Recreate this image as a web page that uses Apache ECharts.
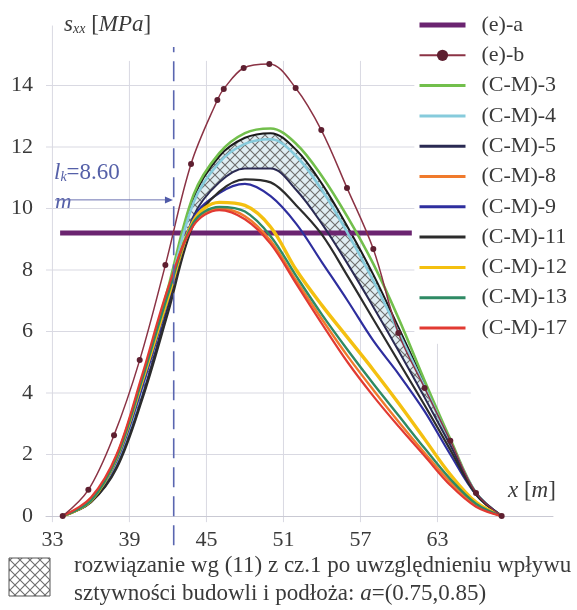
<!DOCTYPE html>
<html>
<head>
<meta charset="utf-8">
<script src="https://cdn.jsdelivr.net/npm/echarts@6/dist/echarts.min.js"></script>
<style>
html, body { margin: 0; padding: 0; background: #fff; }
#chart { width: 577px; height: 610px; }
</style>
</head>
<body>
<div id="chart"></div>
<script>
// Stress s_xx [MPa] along the section x [m]
const xs = [33.8, 36, 38, 40, 42, 44, 46, 48, 50, 52, 54, 56, 58, 60, 62, 64, 66, 68];

const ea = { x: [33.6, 61.0], y: [9.2, 9.2] };
const ebX = [33.8, 35.8, 37.8, 39.8, 41.8, 43.8, 45.85, 46.35, 47.9, 49.9, 51.95, 53.95, 55.95, 58.0, 59.95, 62.0, 64.0, 66.0, 68.0];
const ebY = [0, 0.85, 2.63, 5.07, 8.16, 11.45, 13.53, 13.89, 14.57, 14.7, 13.92, 12.55, 10.67, 8.68, 5.95, 4.16, 2.45, 0.75, 0];

const cm3  = [0, 0.5, 1.8, 4.35, 7.4, 10.45, 11.8, 12.45, 12.6, 12.1, 11.05, 9.72, 8.2, 6.4, 4.4, 2.5, 0.75, 0];
const cm4  = [0, 0.5, 1.75, 4.2, 7.2, 10.2, 11.5, 12.1, 12.25, 11.7, 10.6, 9.2, 7.65, 5.95, 4.2, 2.4, 0.75, 0];
const cm5  = [0, 0.45, 1.6, 3.9, 6.8, 9.75, 10.85, 11.3, 11.3, 10.6, 9.5, 8.2, 6.8, 5.35, 3.85, 2.3, 0.75, 0];
const cm8  = [0, 0.5, 1.95, 4.5, 7.3, 9.5, 10.0, 9.75, 8.95, 7.65, 6.4, 5.2, 4.1, 3.05, 2.05, 1.1, 0.35, 0];
const cm9  = [0, 0.5, 1.8, 4.2, 7.0, 9.7, 10.5, 10.8, 10.4, 9.5, 8.25, 7.0, 5.7, 4.6, 3.4, 2.0, 0.7, 0];
const cm11 = [0, 0.45, 1.55, 3.8, 6.6, 9.5, 10.55, 10.95, 10.85, 10.1, 9.15, 7.8, 6.4, 5.0, 3.6, 2.15, 0.7, 0];
const cm12 = [0, 0.5, 1.9, 4.4, 7.1, 9.6, 10.2, 10.1, 9.4, 8.0, 6.85, 5.8, 4.75, 3.65, 2.5, 1.35, 0.45, 0];
const cm13 = [0, 0.5, 1.9, 4.45, 7.2, 9.55, 10.05, 9.9, 9.1, 7.8, 6.55, 5.4, 4.3, 3.25, 2.2, 1.2, 0.4, 0];
const cm17 = [0, 0.6, 2.0, 4.6, 7.4, 9.45, 9.95, 9.65, 8.85, 7.55, 6.25, 5.0, 3.9, 2.9, 1.95, 1.0, 0.3, 0];
// upper bound of the solution band, a = 0.75 ... 0.85 (lower bound: (C-M)-5)
const bandTop = [0, 0.5, 1.8, 4.3, 7.3, 10.35, 11.7, 12.3, 12.45, 11.9, 10.8, 9.4, 7.85, 6.1, 4.3, 2.45, 0.75, 0];

const xTicks = [33, 39, 45, 51, 57, 63];
const yTicks = [0, 2, 4, 6, 8, 10, 12, 14];

const lkStart = 33.85;
const lk = 8.60;
const lkX = lkStart + lk;

const SERIF = 'Liberation Serif';
const TXT = '#3a3a3a';
const FS = 22;
const SMOOTH = 0.35;

function hatch(bg) {
  const c = document.createElement('canvas');
  c.width = 10; c.height = 10;
  const g = c.getContext('2d');
  g.fillStyle = bg;
  g.fillRect(0, 0, 10, 10);
  g.strokeStyle = '#6e6e6e';
  g.lineWidth = 1.1;
  g.beginPath();
  g.moveTo(0, 0); g.lineTo(10, 10);
  g.moveTo(10, 0); g.lineTo(0, 10);
  g.stroke();
  return c;
}

const pair = (arrX, arrY) => arrX.map((x, i) => [x, arrY[i]]);
// value first, position second: lets the stack run along y
const pairYX = (arrX, arrY) => arrX.map((x, i) => [arrY[i], x]);

function cmSeries(name, vals, color, width) {
  return {
    name, type: 'line', data: pair(xs, vals), smooth: SMOOTH,
    symbol: 'none', lineStyle: { color, width }, itemStyle: { color }
  };
}

// grid lines: horizontal ones stop short of the legend box
const gridRows = [];
yTicks.filter(v => v > 0).forEach(v => gridRows.push([32.5, v, v < 6 ? 65.6 : 61.2, v]));
gridRows.push([xTicks[0], -0.2, xTicks[0], 15.95]);
xTicks.slice(1).forEach(v => gridRows.push([v, -0.2, v, v > 60 ? 5.6 : 14.8]));

const bandDiff = xs.map((x, i) => +(bandTop[i] - cm5[i]).toFixed(3));

const names = ['(e)-a', '(e)-b', '(C-M)-3', '(C-M)-4', '(C-M)-5', '(C-M)-8', '(C-M)-9', '(C-M)-11', '(C-M)-12', '(C-M)-13', '(C-M)-17'];
const legendData = names.map(n => {
  if (n === '(e)-b') return { name: n };
  if (n === '(e)-a') return { name: n, itemStyle: { opacity: 0 }, lineStyle: { width: 5 } };
  return { name: n, itemStyle: { opacity: 0 }, lineStyle: { width: 3 } };
});

function segment(api) {
  return [api.coord([api.value(0), api.value(1)]), api.coord([api.value(2), api.value(3)])];
}

const chart = echarts.init(document.getElementById('chart'));
chart.setOption({
  animation: false,
  grid: { left: 46, right: 24, top: 24, bottom: 94 },
  xAxis: {
    type: 'value', min: 32.5, max: 72,
    axisLine: { show: true, lineStyle: { color: '#c9c9d3', width: 1 } },
    axisTick: { show: false },
    splitLine: { show: false },
    axisLabel: { customValues: xTicks, fontFamily: SERIF, fontSize: FS, color: TXT, margin: 13 }
  },
  yAxis: {
    type: 'value', min: 0, max: 16,
    axisLine: { show: false }, axisTick: { show: false }, splitLine: { show: false },
    axisLabel: { customValues: yTicks, fontFamily: SERIF, fontSize: FS, color: TXT, margin: 13 }
  },
  legend: {
    orient: 'vertical', left: 417, top: 14, padding: 0,
    itemWidth: 46, itemHeight: 14, itemGap: 8.3,
    selectedMode: false,
    data: legendData,
    textStyle: { fontFamily: SERIF, fontSize: FS, color: TXT, lineHeight: 22, padding: [0, 0, 0, 11] }
  },
  series: [
    {
      name: 'grid', type: 'custom', z: 0, silent: true,
      encode: { x: [0, 2], y: [1, 3] },
      data: gridRows,
      renderItem: (params, api) => {
        const [a, b] = segment(api);
        return { type: 'line', shape: { x1: a[0], y1: a[1], x2: b[0], y2: b[1] },
                 style: { stroke: '#d9d9e2', lineWidth: 1 } };
      }
    },
    {
      name: 'lk', type: 'custom', z: 6, silent: true,
      encode: { x: [0, 2], y: [1, 3] },
      data: [[lkX, -0.95, lkX, 15.25]],
      renderItem: (params, api) => {
        const [a, b] = segment(api);
        return { type: 'line', shape: { x1: a[0], y1: a[1], x2: b[0], y2: b[1] },
                 style: { stroke: '#5a66b0', lineWidth: 1.6, lineDash: [20, 9] } };
      }
    },
    {
      name: 'lkArrow', type: 'custom', z: 6, silent: true,
      encode: { x: [0, 2], y: [1, 3] },
      data: [[33.2, 10.28, lkX - 0.06, 10.28]],
      renderItem: (params, api) => {
        const [a, b] = segment(api);
        return {
          type: 'group', children: [
            { type: 'line', shape: { x1: a[0], y1: a[1], x2: b[0] - 6, y2: b[1] },
              style: { stroke: '#6a70b0', lineWidth: 1 } },
            { type: 'polygon', shape: { points: [[b[0], b[1]], [b[0] - 8, b[1] - 3.5], [b[0] - 8, b[1] + 3.5]] },
              style: { fill: '#4f5aa8' } }
          ]
        };
      }
    },
    {
      name: '(e)-a', type: 'line', data: pair(ea.x, ea.y), symbol: 'none', z: 3,
      lineStyle: { color: '#6b2470', width: 5 }, itemStyle: { color: '#6b2470' }
    },
    {
      name: '(e)-b', type: 'line', data: pair(ebX, ebY), smooth: SMOOTH,
      symbol: 'circle', symbolSize: 6, z: 4,
      lineStyle: { color: '#8b3345', width: 1.5 }, itemStyle: { color: '#5e1f30' }
    },
    cmSeries('(C-M)-3', cm3, '#72bf4c', 2.6),
    cmSeries('(C-M)-4', cm4, '#86cbdc', 2.6),
    {
      name: '(C-M)-5', type: 'line', stack: 'band', data: pairYX(xs, cm5), encode: { x: 1, y: 0 },
      smooth: SMOOTH, symbol: 'none', lineStyle: { color: '#2a2a52', width: 2 }, itemStyle: { color: '#2a2a52' }
    },
    {
      name: 'band', type: 'line', stack: 'band', data: pairYX(xs, bandDiff), encode: { x: 1, y: 0 },
      smooth: SMOOTH, symbol: 'none', z: 1, lineStyle: { color: '#1a1a1a', width: 2 },
      areaStyle: { color: { image: hatch('#e0eef3'), repeat: 'repeat' }, opacity: 1 }
    },
    cmSeries('(C-M)-8', cm8, '#f07a2c', 2.4),
    cmSeries('(C-M)-9', cm9, '#2e2e9e', 2.2),
    cmSeries('(C-M)-11', cm11, '#2c2c2c', 2.2),
    cmSeries('(C-M)-12', cm12, '#f4c010', 3.4),
    cmSeries('(C-M)-13', cm13, '#2e8a64', 2.4),
    cmSeries('(C-M)-17', cm17, '#e23a32', 2.2)
  ],
  graphic: [
    {
      type: 'text', left: 64, top: 13,
      style: {
        text: '{i|s}{s|xx}{n| [}{i|MPa}{n|]}',
        rich: {
          i: { fontFamily: SERIF, fontSize: 23, fontStyle: 'italic', fill: TXT },
          s: { fontFamily: SERIF, fontSize: 14, fontStyle: 'italic', fill: TXT, padding: [10, 0, 0, 0] },
          n: { fontFamily: SERIF, fontSize: 23, fill: TXT }
        }
      }
    },
    {
      type: 'text', left: 508, top: 479,
      style: {
        text: '{i|x}{n| [}{i|m}{n|]}',
        rich: {
          i: { fontFamily: SERIF, fontSize: 23, fontStyle: 'italic', fill: TXT },
          n: { fontFamily: SERIF, fontSize: 23, fill: TXT }
        }
      }
    },
    {
      type: 'text', left: 54, top: 161,
      style: {
        text: '{i|l}{s|k}{n|=' + lk.toFixed(2) + '}',
        rich: {
          i: { fontFamily: SERIF, fontSize: 23, fontStyle: 'italic', fill: '#5560a8' },
          s: { fontFamily: SERIF, fontSize: 14, fontStyle: 'italic', fill: '#5560a8', padding: [10, 0, 0, 0] },
          n: { fontFamily: SERIF, fontSize: 23, fill: '#5560a8' }
        }
      }
    },
    {
      type: 'text', left: 55, top: 191,
      style: { text: 'm', fontFamily: SERIF, fontSize: 23, fontStyle: 'italic', fill: '#5560a8' }
    },
    {
      type: 'rect', shape: { x: 9, y: 558, width: 41, height: 38 },
      style: { fill: { image: hatch('#ffffff'), repeat: 'repeat' }, stroke: '#555', lineWidth: 1 }
    },
    {
      type: 'text', left: 74, top: 554,
      style: { text: 'rozwiązanie wg (11) z cz.1 po uwzględnieniu wpływu', fontFamily: SERIF, fontSize: 23, fill: TXT }
    },
    {
      type: 'text', left: 74, top: 582,
      style: {
        text: '{n|sztywności budowli i podłoża: }{i|a}{n|=(0.75,0.85)}',
        rich: {
          i: { fontFamily: SERIF, fontSize: 23, fontStyle: 'italic', fill: TXT },
          n: { fontFamily: SERIF, fontSize: 23, fill: TXT }
        }
      }
    }
  ]
});
</script>
</body>
</html>
